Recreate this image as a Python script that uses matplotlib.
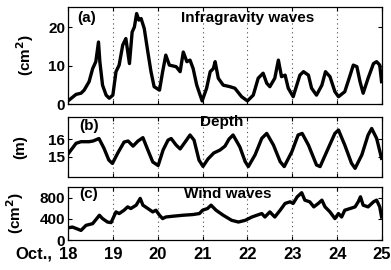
import matplotlib
matplotlib.use("Agg")
import matplotlib.pyplot as plt

plt.rcParams['font.family'] = ['Liberation Sans', 'DejaVu Sans']
plt.rcParams['font.weight'] = 'bold'

# (a) Infragravity wave energy (cm^2)
ig_t = [18.00, 18.18, 18.29, 18.36, 18.47, 18.55, 18.62, 18.68, 18.71, 18.77, 18.85, 18.92,
        19.00, 19.07, 19.14, 19.22, 19.29, 19.37, 19.43, 19.48, 19.53, 19.58, 19.63, 19.70,
        19.78, 19.85, 19.92, 20.04, 20.11, 20.18, 20.26, 20.41, 20.50, 20.57, 20.65, 20.72,
        20.79, 20.87, 20.99, 21.09, 21.17, 21.24, 21.28, 21.35, 21.46, 21.61, 21.72, 21.87,
        22.00, 22.13, 22.24, 22.35, 22.43, 22.50, 22.61, 22.69, 22.76, 22.84, 22.91, 23.02,
        23.10, 23.17, 23.25, 23.36, 23.43, 23.54, 23.66, 23.74, 23.84, 23.95, 24.03, 24.17,
        24.29, 24.36, 24.44, 24.51, 24.58, 24.69, 24.81, 24.88, 24.95, 24.99]
ig_v = [0.8, 2.5, 2.8, 3.6, 5.8, 9.2, 11.0, 16.1, 11.0, 4.9, 2.3, 1.5,
        2.3, 8.4, 10.1, 15.3, 17.0, 10.5, 18.7, 20.0, 23.5, 21.8, 22.2, 19.6,
        13.5, 8.4, 4.5, 3.6, 8.4, 12.7, 10.1, 9.7, 8.4, 13.5, 11.0, 11.4,
        9.2, 4.9, 0.8, 4.1, 8.4, 9.2, 11.0, 6.7, 4.9, 4.5, 4.1, 1.9,
        0.8, 2.3, 6.7, 8.0, 5.4, 4.5, 6.7, 11.4, 7.1, 7.5, 4.1, 1.9,
        4.9, 7.5, 8.4, 7.5, 4.1, 2.3, 4.9, 8.4, 7.1, 3.2, 1.9, 3.2,
        7.5, 10.1, 9.7, 5.8, 2.8, 6.7, 10.5, 11.0, 10.1, 5.8]

# (b) Depth (m)
d_t = [18.00, 18.18, 18.29, 18.47, 18.56, 18.69, 18.80, 18.91, 18.99, 19.11, 19.25, 19.34,
       19.45, 19.56, 19.67, 19.78, 19.89, 20.01, 20.12, 20.23, 20.30, 20.41, 20.50, 20.61,
       20.72, 20.81, 20.92, 21.01, 21.12, 21.25, 21.39, 21.50, 21.59, 21.68, 21.83, 21.95,
       22.02, 22.17, 22.32, 22.43, 22.58, 22.73, 22.82, 22.99, 23.13, 23.22, 23.36, 23.54,
       23.62, 23.80, 23.95, 24.03, 24.17, 24.32, 24.40, 24.55, 24.69, 24.77, 24.88, 24.99]
d_v = [15.15, 15.76, 15.85, 15.85, 15.89, 16.03, 15.49, 14.81, 14.62, 15.21, 15.83, 15.89,
       15.60, 15.89, 16.08, 15.38, 14.70, 14.50, 15.38, 15.94, 16.03, 15.66, 15.44, 15.83,
       16.23, 15.94, 14.81, 14.45, 14.87, 15.21, 15.38, 15.60, 16.00, 16.23, 15.56, 14.72,
       14.44, 15.10, 16.04, 16.32, 15.66, 14.72, 14.44, 15.28, 16.23, 16.32, 15.66, 14.53,
       14.44, 15.47, 16.32, 16.51, 15.66, 14.63, 14.34, 15.10, 16.23, 16.60, 16.04, 14.91]

# (c) Wind wave energy (cm^2)
ww_t = [18.00, 18.10, 18.29, 18.40, 18.55, 18.70, 18.77, 18.88, 18.96, 19.07, 19.14, 19.25,
        19.33, 19.40, 19.52, 19.61, 19.67, 19.78, 19.89, 19.96, 20.04, 20.11, 20.18, 20.33,
        20.56, 20.78, 20.93, 21.00, 21.11, 21.19, 21.30, 21.46, 21.65, 21.80, 21.95, 22.10,
        22.21, 22.32, 22.39, 22.50, 22.61, 22.73, 22.84, 22.95, 23.02, 23.11, 23.21, 23.28,
        23.39, 23.48, 23.58, 23.66, 23.73, 23.84, 23.95, 24.03, 24.10, 24.17, 24.29, 24.40,
        24.47, 24.52, 24.58, 24.69, 24.81, 24.88, 24.95, 24.99]
ww_v = [230, 244, 181, 276, 309, 467, 404, 339, 328, 530, 499, 562,
        625, 594, 657, 785, 657, 594, 530, 562, 467, 404, 434, 448,
        467, 480, 499, 562, 594, 657, 562, 467, 371, 339, 371, 434,
        467, 499, 434, 530, 434, 562, 690, 720, 690, 815, 892, 752,
        720, 625, 690, 752, 625, 530, 404, 499, 434, 562, 594, 625,
        720, 815, 657, 625, 720, 752, 625, 434]

x_ticks = [18, 19, 20, 21, 22, 23, 24, 25]
x_labels = ['18', '19', '20', '21', '22', '23', '24', '25']
month_label = 'Oct.,'

W, H = 391, 270
L, R = 68, 382
fig = plt.figure(figsize=(W / 100, H / 100), dpi=100)

def px_axes(top, bottom):
    return fig.add_axes([L / W, 1 - bottom / H, (R - L) / W, (bottom - top) / H])

ax_a = px_axes(7, 104)
ax_b = px_axes(117, 177)
ax_c = px_axes(187, 240)

LW = 2.4
FS = 11

for ax in (ax_a, ax_b, ax_c):
    ax.set_xlim(18, 25)
    ax.set_xticks(x_ticks)
    ax.tick_params(direction='in', length=3, width=0.8, top=True, right=True,
                   labelsize=FS, pad=2)
    for sp in ax.spines.values():
        sp.set_linewidth(0.9)
    ax.grid(axis='x', linestyle=(0, (1, 3)), color='0.3', linewidth=0.8)

def ylab(ax, text, xpx):
    ax.set_ylabel(text, fontsize=FS, fontweight='bold', va='center')
    ax.yaxis.set_label_coords((xpx - L) / (R - L), 0.5)

ax_a.plot(ig_t, ig_v, color='black', lw=LW, solid_joinstyle='round')
ax_a.set_ylim(0, 25.2)
ax_a.set_yticks([0, 10, 20])
ax_a.set_xticklabels([])
ylab(ax_a, '(cm$^\\mathbf{2}$)', 25)
ax_a.text(0.03, 0.96, '(a)', transform=ax_a.transAxes, fontsize=FS, fontweight='bold', va='top')
ax_a.text(0.36, 0.96, 'Infragravity waves', transform=ax_a.transAxes, fontsize=FS,
          fontweight='bold', va='top')

ax_b.plot(d_t, d_v, color='black', lw=LW, solid_joinstyle='round')
ax_b.set_ylim(13.85, 17.25)
ax_b.set_yticks([15, 16])
ax_b.set_xticklabels([])
ylab(ax_b, '(m)', 20)
ax_b.text(0.035, 0.97, '(b)', transform=ax_b.transAxes, fontsize=FS, fontweight='bold', va='top')
ax_b.text(0.42, 1.03, 'Depth', transform=ax_b.transAxes, fontsize=FS, fontweight='bold', va='top')

ax_c.plot(ww_t, ww_v, color='black', lw=LW, solid_joinstyle='round')
ax_c.set_ylim(0, 1000)
ax_c.set_yticks([0, 400, 800])
ax_c.set_xticklabels(x_labels, fontsize=FS + 1, fontweight='bold')
ax_c.tick_params(axis='x', pad=5)
ylab(ax_c, '(cm$^\\mathbf{2}$)', 15)
ax_c.text(0.035, 1.0, '(c)', transform=ax_c.transAxes, fontsize=FS, fontweight='bold', va='top')
ax_c.text(0.37, 1.0, 'Wind waves', transform=ax_c.transAxes, fontsize=FS, fontweight='bold', va='top')
ax_c.annotate(month_label, xy=(18, 0), xycoords=('data', 'axes fraction'),
              xytext=(-11, -5), textcoords='offset points', ha='right', va='top',
              fontsize=FS + 1, fontweight='bold')

fig.savefig('out.png', dpi=100)
